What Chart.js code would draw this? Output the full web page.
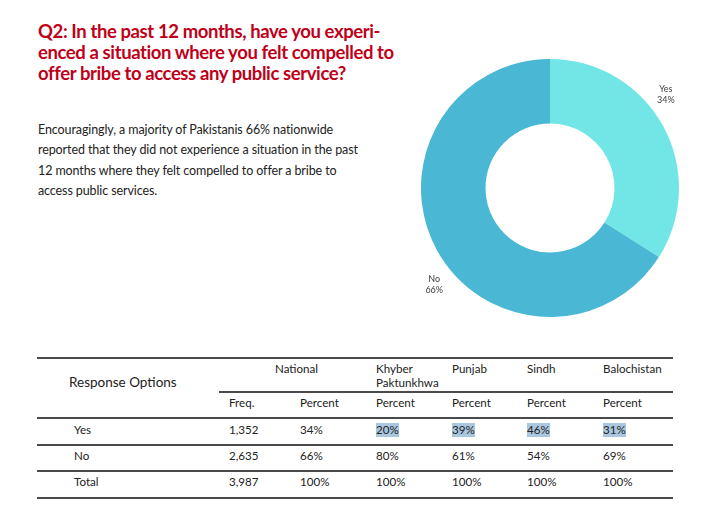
<!DOCTYPE html>
<html>
<head>
<meta charset="utf-8">
<script src="https://cdn.jsdelivr.net/npm/chart.js@4/dist/chart.umd.min.js"></script>
<style>
  html, body { margin:0; padding:0; background:#fff; }
  body { width:714px; height:524px; position:relative; overflow:hidden; font-family: Lato, "Open Sans", sans-serif; color:#222; }
  #title { position:absolute; left:38px; top:21px; color:#C0001A; font-weight:700; font-size:18.5px; letter-spacing:-0.4px; line-height:21px; white-space:nowrap; }
  #para { position:absolute; left:38px; top:120px; font-size:12.5px; letter-spacing:-0.1px; line-height:20.3px; color:#222; white-space:nowrap; }
  #chartWrap { position:absolute; left:400px; top:40px; width:300px; height:280px; }
  .t { position:absolute; font-size:11.6px; color:#222; white-space:nowrap; line-height:14px; }
  .hl { background:#A9C8DF; }
  .ln { position:absolute; height:2px; background:#4a4a4a; }
</style>
</head>
<body>
<div id="title">Q2: In the past 12 months, have you experi-<br>enced a situation where you felt compelled to<br>offer bribe to access any public service?</div>
<div id="para">Encouragingly, a majority of Pakistanis 66% nationwide<br>reported that they did not experience a situation in the past<br>12 months where they felt compelled to offer a bribe to<br>access public services.</div>
<div id="chartWrap"><canvas id="c" width="300" height="280"></canvas></div>
<div id="table"></div>
<script>
// ---- data ----
const responseOptions = ["Yes", "No", "Total"];
const nationalFreq = ["1,352", "2,635", "3,987"];
const nationalPct = [34, 66, 100];
const regions = ["Khyber\nPaktunkhwa", "Punjab", "Sindh", "Balochistan"];
const kpPct = [20, 80, 100];
const punjabPct = [39, 61, 100];
const sindhPct = [46, 54, 100];
const balochistanPct = [31, 69, 100];
const pieLabels = ["Yes", "No"];
const pieValues = [34, 66];
const pieColors = ["#72E6E6", "#4AB8D4"];

// ---- doughnut ----
const labelPlugin = {
  id: 'outLabels',
  afterDatasetsDraw(chart) {
    const ctx = chart.ctx;
    const meta = chart.getDatasetMeta(0);
    ctx.save();
    ctx.font = '9px Lato, "Open Sans", sans-serif';
    ctx.fillStyle = '#404040';
    ctx.textAlign = 'center';
    ctx.textBaseline = 'middle';
    meta.data.forEach((arc, i) => {
      const p = arc.getProps(['x','y','startAngle','endAngle','outerRadius'], true);
      const mid = (p.startAngle + p.endAngle) / 2 - 10.5 * Math.PI / 180;
      const r = p.outerRadius * 1.16;
      const x = p.x + Math.cos(mid) * r;
      const y = p.y + Math.sin(mid) * r + 1.5;
      ctx.fillText(pieLabels[i], x, y - 5.5);
      ctx.fillText(pieValues[i] + '%', x, y + 5.5);
    });
    ctx.restore();
  }
};
new Chart(document.getElementById('c'), {
  type: 'doughnut',
  data: { labels: pieLabels, datasets: [{ data: pieValues, backgroundColor: pieColors, borderWidth: 0, hoverOffset: 0 }] },
  options: {
    responsive: false, animation: false, cutout: '50%',
    layout: { padding: { top: 19, bottom: 3, left: 21, right: 21 } },
    plugins: { legend: { display: false }, tooltip: { enabled: false } }
  },
  plugins: [labelPlugin]
});

// ---- table ----
const tbl = document.getElementById('table');
function txt(s, x, y, cls) {
  const d = document.createElement('div');
  d.className = 't' + (cls ? ' ' + cls : '');
  d.style.left = x + 'px'; d.style.top = y + 'px';
  d.innerHTML = s.replace(/\n/g, '<br>');
  tbl.appendChild(d);
  return d;
}
function line(x1, x2, y) {
  const d = document.createElement('div');
  d.className = 'ln';
  d.style.left = x1 + 'px'; d.style.width = (x2 - x1) + 'px'; d.style.top = (y - 1) + 'px';
  tbl.appendChild(d);
}
line(37, 673, 357.5);
line(219, 673, 391.5);
line(37, 673, 418);
line(37, 673, 444.5);
line(37, 673, 471);
line(37, 673, 497.5);
const ro = txt("Response Options", 69, 375); ro.style.fontSize = '13.5px';
txt("National", 275, 362);
const regX = [376, 452, 527, 603];
regions.forEach((r, i) => txt(r, regX[i], 362));
txt("Freq.", 229, 396);
txt("Percent", 300, 396);
regX.forEach(x => txt("Percent", x, 396));
const rowY = [423, 449, 475];
const regData = [kpPct, punjabPct, sindhPct, balochistanPct];
responseOptions.forEach((r, i) => {
  txt(r, 74, rowY[i]);
  txt(nationalFreq[i], 229, rowY[i]);
  txt(nationalPct[i] + '%', 300, rowY[i]);
  regData.forEach((arr, j) => txt(arr[i] + '%', regX[j], rowY[i], i === 0 ? 'hl' : ''));
});
</script>
</body>
</html>
